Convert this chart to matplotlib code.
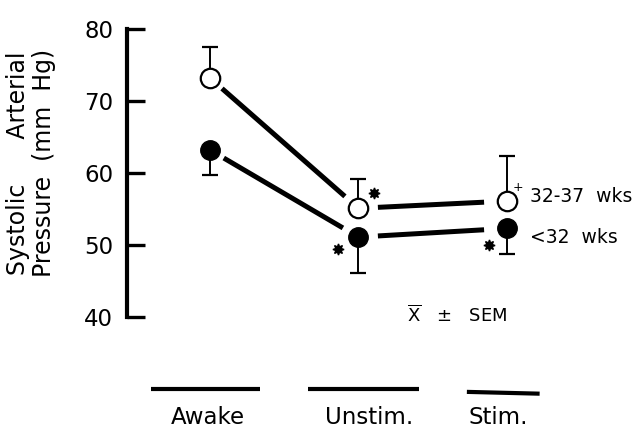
import matplotlib
matplotlib.use("Agg")
import matplotlib.pyplot as plt
from matplotlib.transforms import ScaledTranslation

plt.rcParams['font.family'] = ['DejaVu Sans']
plt.rcParams['mathtext.fontset'] = 'dejavusans'

# ---- data ----
categories = ["Awake", "Unstim.", "Stim."]
older_mean = [73.2, 55.1, 56.1]      # 32-37 wks (open circles)
older_sem = [4.3, 4.0, 6.3]
younger_mean = [63.2, 51.1, 52.3]    # <32 wks (filled circles)
younger_sem = [3.5, 5.0, 3.6]
older_label = "32-37  wks"
younger_label = "<32  wks"
yticks = [40, 50, 60, 70, 80]

fig = plt.figure(figsize=(6.4, 4.3), dpi=100)
ax = fig.add_axes([127 / 640, 113 / 430, 513 / 640, 288 / 430])
ax.set_ylim(40, 80)
ax.set_xlim(-0.559, 2.896)

xs = list(range(len(categories)))

# error bars (upper for open, lower for filled)
ax.errorbar(xs, older_mean, yerr=[[0] * 3, older_sem], fmt='none', ecolor='k',
            elinewidth=1.4, capsize=6, capthick=1.6, zorder=2, clip_on=False)
ax.errorbar(xs, younger_mean, yerr=[younger_sem, [0] * 3], fmt='none', ecolor='k',
            elinewidth=1.4, capsize=6, capthick=1.6, zorder=2, clip_on=False)

# connecting lines with gaps near markers
shrinks = [(11.5, 13), (14, 16.5)]
for series in (older_mean, younger_mean):
    for i in range(len(xs) - 1):
        sa, sb = shrinks[i]
        ax.annotate('', xy=(xs[i + 1], series[i + 1]), xytext=(xs[i], series[i]),
                    arrowprops=dict(arrowstyle='-', lw=3.6, color='k',
                                    shrinkA=sa, shrinkB=sb, capstyle='butt'),
                    annotation_clip=False)

# markers
ax.plot(xs, older_mean, linestyle='none', marker='o', ms=14, mfc='white',
        mec='k', mew=1.6, zorder=4, clip_on=False)
ax.plot(xs, younger_mean, linestyle='none', marker='o', ms=14, mfc='k',
        mec='k', mew=1.0, zorder=4, clip_on=False)

# significance marks
def offset(dx, dy):
    return ax.transData + ScaledTranslation(dx / 72, dy / 72, fig.dpi_scale_trans)

star = (8, 1, 0)
ax.plot([xs[1]], [older_mean[1]], marker=star, ms=8, color='k', ls='none',
        transform=offset(11, 11), clip_on=False)
ax.plot([xs[1]], [younger_mean[1]], marker=star, ms=8, color='k', ls='none',
        transform=offset(-14.5, -8.5), clip_on=False)
ax.plot([xs[2]], [younger_mean[2]], marker=star, ms=8, color='k', ls='none',
        transform=offset(-13, -12), clip_on=False)
ax.annotate('+', xy=(xs[2], older_mean[2]), xytext=(8, 10), textcoords='offset points',
            ha='center', va='center', fontsize=9)

# series labels
ax.annotate(older_label, xy=(xs[2], older_mean[2]), xytext=(16.5, 3.6),
            textcoords='offset points', ha='left', va='center', fontsize=13.5,
            annotation_clip=False)
ax.annotate(younger_label, xy=(xs[2], younger_mean[2]), xytext=(16.5, -6.5),
            textcoords='offset points', ha='left', va='center', fontsize=13.5,
            annotation_clip=False)

# mean +/- SEM note
ax.text(1.327, 40.3, r'$\overline{\mathrm{X}}$   ±   SEM', ha='left', va='center',
        fontsize=13)

# category underlines and labels
underline = [(-0.40, 0.34, 30.0, 0.0), (-0.34, 0.41, 30.0, 0.0), (-0.27, 0.22, 29.6, -0.25)]
label_dx = [-0.013, 0.07, -0.06]
for x, name, (a, b, yl, slope), dx in zip(xs, categories, underline, label_dx):
    ax.plot([x + a, x + b], [yl, yl + slope], color='k', lw=3,
            solid_capstyle='butt', clip_on=False)
    ax.text(x + dx, 26.1, name, ha='center', va='center', fontsize=16.5)

# axes styling
for s in ('top', 'right', 'bottom'):
    ax.spines[s].set_visible(False)
ax.spines['left'].set_linewidth(3)
ax.spines['left'].set_bounds(40, 80)
ax.set_xticks([])
ax.set_yticks(yticks)
ax.set_yticklabels([str(t) for t in yticks])
ax.tick_params(axis='y', direction='in', length=13, width=2.4, pad=10,
               labelsize=16.5)

fig.text(31 / 640, 1 - 163 / 430, "Systolic      Arterial\nPressure  (mm  Hg)",
         rotation=90, ha='center', va='center', multialignment='center',
         fontsize=17, linespacing=1.12)

fig.savefig("out.png", dpi=100)
